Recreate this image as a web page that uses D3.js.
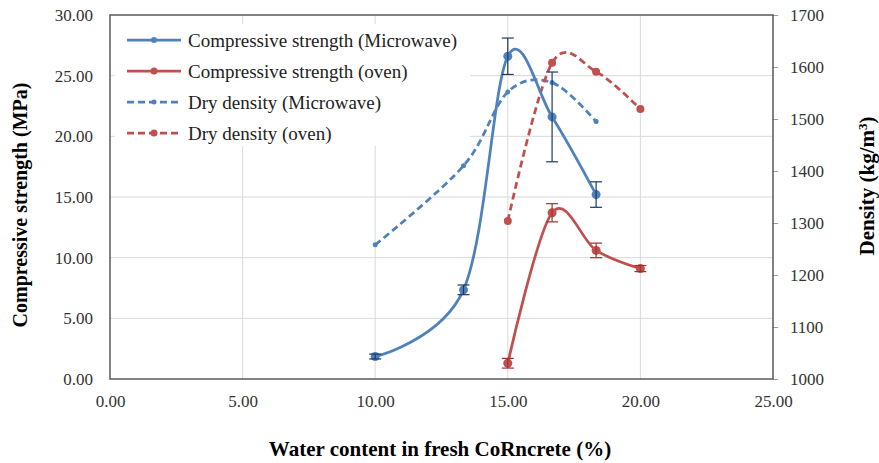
<!DOCTYPE html>
<html><head><meta charset="utf-8">
<script src="https://cdn.jsdelivr.net/npm/d3@7"></script>
<style>body{margin:0;background:#fff}svg{display:block}</style>
</head><body>
<svg id="c" width="879" height="463"></svg>
<script>
const xTicks = [0, 5, 10, 15, 20, 25];
const yLeftTicks = [0, 5, 10, 15, 20, 25, 30];
const yRightTicks = [1000, 1100, 1200, 1300, 1400, 1500, 1600, 1700];

const csMicroX = [10, 13.33, 15, 16.67, 18.33];
const csMicroY = [1.85, 7.35, 26.6, 21.6, 15.2];
const csMicroErr = [0.2, 0.4, 1.5, 3.7, 1.05];

const csOvenX = [15, 16.67, 18.33, 20];
const csOvenY = [1.3, 13.7, 10.6, 9.1];
const csOvenErr = [0.4, 0.75, 0.6, 0.25];

const ddMicroX = [10, 13.33, 15, 16.67, 18.33];
const ddMicroY = [1258, 1410, 1552, 1570, 1495];

const ddOvenX = [15, 16.67, 18.33, 20];
const ddOvenY = [1304, 1608, 1591, 1519];

const legendLabels = ["Compressive strength (Microwave)", "Compressive strength (oven)", "Dry density (Microwave)", "Dry density (oven)"];

const BLUE = "#4F81BD", RED = "#C0504D";
const FONT = "'Liberation Serif', 'Times New Roman', serif";

const svg = d3.select("#c");
const L = 110, R = 773, T = 15, B = 379;
const x = d3.scaleLinear().domain([0, 25]).range([L, R]);
const yl = d3.scaleLinear().domain([0, 30]).range([B, T]);
const yr = d3.scaleLinear().domain([1000, 1700]).range([B, T]);

// grid
svg.append("g").selectAll("line").data(xTicks.slice(1, -1)).join("line")
  .attr("x1", d => x(d)).attr("x2", d => x(d)).attr("y1", T).attr("y2", B)
  .attr("stroke", "#d9d9d9").attr("stroke-width", 1);
svg.append("g").selectAll("line").data(yLeftTicks.slice(1, -1)).join("line")
  .attr("x1", L).attr("x2", R).attr("y1", d => yl(d)).attr("y2", d => yl(d))
  .attr("stroke", "#d9d9d9").attr("stroke-width", 1);

// axes
const ax = svg.append("g").attr("transform", `translate(0,${B})`)
  .call(d3.axisBottom(x).tickValues(xTicks).tickFormat(d3.format(".2f")).tickSize(0).tickPadding(16));
const ayl = svg.append("g").attr("transform", `translate(${L},0)`)
  .call(d3.axisLeft(yl).tickValues(yLeftTicks).tickFormat(d3.format(".2f")).tickSize(0).tickPadding(17));
const ayr = svg.append("g").attr("transform", `translate(${R},0)`)
  .call(d3.axisRight(yr).tickValues(yRightTicks).tickFormat(d3.format("d")).tickSize(5).tickPadding(12));
[ax, ayl, ayr].forEach(g => {
  g.select(".domain").remove();
  g.selectAll("text").attr("font-family", FONT).attr("font-size", 17).attr("fill", "#333");
  g.selectAll("line").attr("stroke", "#999");
});
// frame
svg.append("rect").attr("x", L).attr("y", T).attr("width", R - L).attr("height", B - T)
  .attr("fill", "none").attr("stroke", "#595959").attr("stroke-width", 1.5);

const curve = d3.curveCatmullRom.alpha(0);

function series(xs, ys, yScale, color, dashed, r) {
  const pts = xs.map((v, i) => [v, ys[i]]);
  svg.append("path").datum(pts)
    .attr("d", d3.line().x(d => x(d[0])).y(d => yScale(d[1])).curve(curve))
    .attr("fill", "none").attr("stroke", color).attr("stroke-width", 2.75)
    .attr("stroke-dasharray", dashed ? "7,4" : null);
  svg.append("g").selectAll("circle").data(pts).join("circle")
    .attr("cx", d => x(d[0])).attr("cy", d => yScale(d[1])).attr("r", r).attr("fill", color);
}
function errBars(xs, ys, es, color) {
  const g = svg.append("g").attr("stroke", color).attr("stroke-width", 1.2);
  xs.forEach((v, i) => {
    const cx = x(v), y1 = yl(ys[i] + es[i]), y2 = yl(ys[i] - es[i]);
    g.append("line").attr("x1", cx).attr("x2", cx).attr("y1", y1).attr("y2", y2);
    g.append("line").attr("x1", cx - 6).attr("x2", cx + 6).attr("y1", y1).attr("y2", y1);
    g.append("line").attr("x1", cx - 6).attr("x2", cx + 6).attr("y1", y2).attr("y2", y2);
  });
}

series(ddMicroX, ddMicroY, yr, BLUE, true, 2.5);
series(ddOvenX, ddOvenY, yr, RED, true, 4);
series(csMicroX, csMicroY, yl, BLUE, false, 4.5);
series(csOvenX, csOvenY, yl, RED, false, 4.5);
errBars(csMicroX, csMicroY, csMicroErr, "#1F3864");
errBars(csOvenX, csOvenY, csOvenErr, "#A0302E");

// legend
const lg = svg.append("g");
lg.append("rect").attr("x", 115).attr("y", 24).attr("width", 355).attr("height", 122).attr("fill", "#fff");
const lgStyle = [[BLUE, false, 3], [RED, false, 3.5], [BLUE, true, 2.5], [RED, true, 3.5]];
legendLabels.forEach((t, i) => {
  const yy = 40 + i * 31;
  const [c, d, r] = lgStyle[i];
  lg.append("line").attr("x1", 127).attr("x2", 181).attr("y1", yy).attr("y2", yy)
    .attr("stroke", c).attr("stroke-width", 2.75).attr("stroke-dasharray", d ? "7,4" : null);
  lg.append("circle").attr("cx", 154).attr("cy", yy).attr("r", r).attr("fill", c);
  lg.append("text").attr("x", 188).attr("y", yy + 6.5).text(t)
    .attr("font-family", FONT).attr("font-size", 19).attr("fill", "#222");
});

// titles
svg.append("text").attr("transform", "translate(27,205) rotate(-90)").attr("text-anchor", "middle")
  .attr("font-family", FONT).attr("font-weight", "bold").attr("font-size", 20)
  .text("Compressive strength (MPa)");
const rt = svg.append("text").attr("transform", "translate(874,186) rotate(-90)").attr("text-anchor", "middle")
  .attr("font-family", FONT).attr("font-weight", "bold").attr("font-size", 21);
rt.append("tspan").text("Density (kg/m");
rt.append("tspan").attr("dy", -7).attr("font-size", 13).text("3");
rt.append("tspan").attr("dy", 7).text(")");
svg.append("text").attr("x", 440).attr("y", 456).attr("text-anchor", "middle")
  .attr("font-family", FONT).attr("font-weight", "bold").attr("font-size", 21)
  .text("Water content in fresh CoRncrete (%)");
</script>
</body></html>
